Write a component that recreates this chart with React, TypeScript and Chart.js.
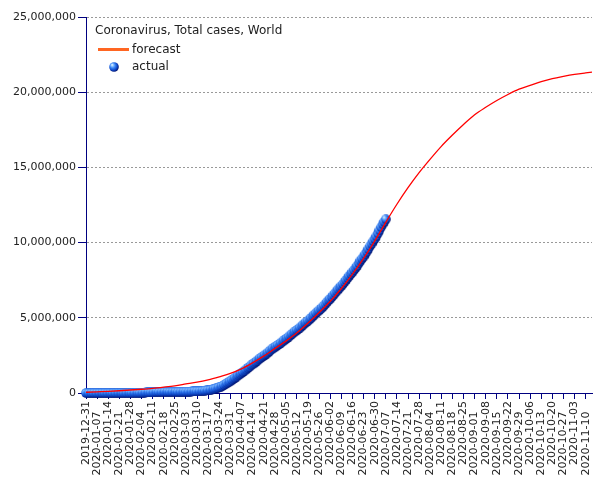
import { useEffect, useRef } from 'react';
import { Chart, registerables } from 'chart.js';

Chart.register(...registerables);

const legendTitle = 'Coronavirus, Total cases, World';
const seriesNames = ['forecast', 'actual'];

const xTickLabels = [
  '2019-12-31', '2020-01-07', '2020-01-14', '2020-01-21', '2020-01-28', '2020-02-04',
  '2020-02-11', '2020-02-18', '2020-02-25', '2020-03-03', '2020-03-10', '2020-03-17',
  '2020-03-24', '2020-03-31', '2020-04-07', '2020-04-14', '2020-04-21', '2020-04-28',
  '2020-05-05', '2020-05-12', '2020-05-19', '2020-05-26', '2020-06-02', '2020-06-09',
  '2020-06-16', '2020-06-23', '2020-06-30', '2020-07-07', '2020-07-14', '2020-07-21',
  '2020-07-28', '2020-08-04', '2020-08-11', '2020-08-18', '2020-08-25', '2020-09-01',
  '2020-09-08', '2020-09-15', '2020-09-22', '2020-09-29', '2020-10-06', '2020-10-13',
  '2020-10-20', '2020-10-27', '2020-11-03', '2020-11-10',
];

// daily cumulative cases, day 0 = 2019-12-31
const actualCases = [
  // Dec 31 - Jan 31
  27, 27, 27, 44, 44, 59, 59, 59, 59, 59, 59, 59, 60, 61, 61, 62, 64, 70, 121, 200,
  282, 314, 581, 846, 1320, 2014, 2798, 4593, 6065, 7818, 9826, 11953,
  // Feb
  14557, 17391, 20630, 24554, 28276, 31481, 34886, 37558, 40554, 43103, 45171, 46997,
  60328, 64543, 67103, 69265, 71332, 73327, 75184, 75700, 76677, 77673, 78651, 79205,
  80087, 80828, 81820, 83112, 84615,
  // Mar
  86604, 88585, 90443, 93016, 95314, 98425, 102050, 106099, 109991, 114381, 118948,
  126214, 134576, 145483, 156653, 169511, 182490, 198234, 218822, 244933, 275597,
  305036, 337489, 378287, 418045, 467653, 529591, 593291, 660693, 720140, 782389,
  // Apr
  857487, 932605, 1013157, 1095917, 1176060, 1249754, 1321481, 1396476, 1480202,
  1565278, 1657526, 1735650, 1834721, 1904838, 1976191, 2056054, 2152437, 2240190,
  2317759, 2401378, 2472259, 2549123, 2623960, 2708885, 2811193, 2896746, 2971475,
  3041764, 3116398, 3193886,
  // May
  3256846, 3343777, 3427343, 3506729, 3583055, 3662691, 3755341, 3845718, 3938064,
  4024009, 4101699, 4177502, 4261747, 4347018, 4442163, 4542347, 4634068, 4713620,
  4801943, 4897492, 4996472, 5102424, 5210817, 5310362, 5407613, 5495061, 5589626,
  5691790, 5808946, 5924275, 6059017,
  // Jun
  6166946, 6265852, 6386891, 6508635, 6632985, 6764008, 6891304, 7010357, 7119198,
  7242235, 7377440, 7513948, 7653367, 7790735, 7918967, 8033982, 8174122, 8315826,
  8454813, 8630160, 8796146, 8926296, 9069637, 9225045, 9397096, 9571622, 9755047,
  9916826, 10084419, 10242758,
  // Jul 1 - Jul 7
  10416306, 10607826, 10816779, 11018224, 11212318, 11379218, 11546600,
];

const forecastDays = [
  0, 7, 14, 21, 28, 35, 42, 49, 56, 63, 70, 77, 84, 91, 98, 105, 112, 119, 126, 133,
  140, 147, 154, 161, 168, 175, 182, 189, 196, 203, 210, 217, 224, 231, 238, 245, 252,
  259, 266, 273, 280, 287, 294, 301, 308, 315, 319,
];
const forecastCases = [
  50000, 80000, 110000, 150000, 200000, 250000, 310000, 390000, 480000, 600000, 720000,
  880000, 1080000, 1300000, 1600000, 2000000, 2450000, 2950000, 3450000, 4000000,
  4650000, 5350000, 6100000, 6950000, 7900000, 8950000, 10100000, 11350000, 12550000,
  13650000, 14650000, 15550000, 16400000, 17150000, 17850000, 18500000, 19000000,
  19450000, 19850000, 20200000, 20450000, 20700000, 20900000, 21050000, 21180000,
  21280000, 21330000,
];

const yMax = 25000000;
const yStep = 5000000;
const xMax = 319;

function makeSphere(size: number): HTMLCanvasElement {
  const c = document.createElement('canvas');
  c.width = size;
  c.height = size;
  const g = c.getContext('2d')!;
  const r = size / 2;
  const grad = g.createRadialGradient(r * 0.6, r * 0.55, 0, r * 0.85, r * 0.85, r * 1.15);
  grad.addColorStop(0, '#ffffff');
  grad.addColorStop(0.18, '#9ccdff');
  grad.addColorStop(0.45, '#3a86f6');
  grad.addColorStop(0.75, '#0f48c8');
  grad.addColorStop(1, '#00106a');
  g.fillStyle = grad;
  g.beginPath();
  g.arc(r, r, r - 0.2, 0, Math.PI * 2);
  g.fill();
  return c;
}

export default function App() {
  const ref = useRef<HTMLCanvasElement | null>(null);

  useEffect(() => {
    document.body.style.margin = '0';
    const canvas = ref.current;
    if (!canvas) return;
    const sphere = makeSphere(10);
    const axisColor = '#000080';
    const stagger = '\u00a0\u00a0\u00a0';

    const legendPlugin = {
      id: 'insideLegend',
      afterDraw(chart: any) {
        const ctx = chart.ctx as CanvasRenderingContext2D;
        ctx.save();
        ctx.font = '12px "DejaVu Sans"';
        ctx.fillStyle = '#222';
        ctx.textBaseline = 'middle';
        ctx.textAlign = 'left';
        ctx.fillText(legendTitle, 95, 31);
        ctx.strokeStyle = '#ff6622';
        ctx.lineWidth = 3;
        ctx.beginPath();
        ctx.moveTo(98, 49.5);
        ctx.lineTo(129, 49.5);
        ctx.stroke();
        ctx.fillText(seriesNames[0], 132, 49.5);
        ctx.drawImage(sphere, 114 - 5, 67 - 5);
        ctx.fillText(seriesNames[1], 132, 67);
        ctx.restore();
      },
    };

    const chart = new Chart(canvas, {
      type: 'scatter',
      data: {
        datasets: [
          {
            label: seriesNames[0],
            data: forecastDays.map((d, i) => ({ x: d, y: forecastCases[i] })),
            showLine: true,
            borderColor: '#ff0000',
            backgroundColor: '#ff0000',
            borderWidth: 1.3,
            pointRadius: 0,
            cubicInterpolationMode: 'monotone',
          } as any,
          {
            label: seriesNames[1],
            data: actualCases.map((v, i) => ({ x: i, y: v })),
            showLine: false,
            pointStyle: sphere,
            pointRadius: 5,
            borderWidth: 0,
            clip: false,
          } as any,
        ],
      },
      options: {
        animation: false,
        responsive: false,
        devicePixelRatio: 1,
        events: [],
        layout: { padding: { top: 17, right: 13, left: 0, bottom: 0 } },
        plugins: { legend: { display: false }, tooltip: { enabled: false } },
        scales: {
          x: {
            type: 'linear',
            min: 0,
            max: xMax,
            afterFit(s: any) {
              s.height = 87;
            },
            grid: {
              drawOnChartArea: false,
              drawTicks: true,
              tickLength: 6,
              tickColor: axisColor,
              tickWidth: 1,
            },
            border: { color: axisColor, width: 1 },
            ticks: {
              stepSize: 7,
              includeBounds: false,
              autoSkip: false,
              maxTicksLimit: 100,
              maxRotation: 90,
              minRotation: 90,
              padding: 2,
              color: '#222',
              font: { family: 'DejaVu Sans', size: 11 },
              callback: (_v: any, i: number) => {
                const l = xTickLabels[i] ?? '';
                return i % 2 ? l + stagger : l;
              },
            },
          } as any,
          y: {
            type: 'linear',
            min: 0,
            max: yMax,
            afterFit(s: any) {
              s.width = 86;
            },
            grid: {
              color: (c: any) => (c.tick && c.tick.value === 0 ? 'rgba(0,0,0,0)' : '#999999'),
              tickColor: axisColor,
              tickLength: 8,
              tickWidth: 1,
              tickBorderDash: [],
            },
            border: { color: axisColor, width: 1, dash: [2, 2] },
            ticks: {
              stepSize: yStep,
              padding: 2,
              color: '#222',
              font: { family: 'DejaVu Sans', size: 11 },
              callback: (v: any) => Number(v).toLocaleString('en-US'),
            },
          } as any,
        },
      },
      plugins: [legendPlugin],
    });

    return () => chart.destroy();
  }, []);

  return (
    <div style={{ width: 605, height: 480 }}>
      <canvas ref={ref} width={605} height={480} />
    </div>
  );
}
